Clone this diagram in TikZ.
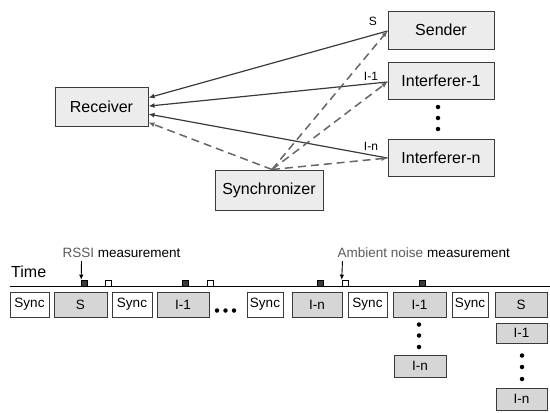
\documentclass[tikz,border=0pt]{standalone}
\usepackage{fontspec}
\setmainfont{Liberation Sans}
\usetikzlibrary{calc,arrows.meta}
\definecolor{topfill}{HTML}{ECECEC}
\definecolor{slotfill}{HTML}{D6D6D6}
\definecolor{edge}{HTML}{3A3A3A}
\definecolor{dash}{HTML}{666666}
\definecolor{greytext}{HTML}{5A5A5A}
\tikzset{
  topbox/.style={draw=edge, line width=1pt, fill=topfill, inner sep=0pt, font=\fontsize{16}{18}\selectfont},
  slot/.style={draw=edge, line width=0.9pt, inner sep=0pt, minimum height=25pt, font=\fontsize{13.5}{15}\selectfont},
  syncslot/.style={slot, fill=white},
  msgslot/.style={slot, fill=slotfill},
  solidlink/.style={draw=edge, line width=1.2pt, -{Latex[length=6pt,width=5pt]}},
  dashlink/.style={draw=dash, line width=1.5pt, dash pattern=on 8pt off 5pt, -{Latex[length=6pt,width=5pt]}},
  linklabel/.style={font=\fontsize{12}{14}\selectfont, inner sep=0pt},
  dotmark/.style={fill=black, circle, inner sep=0pt, minimum size=4.5pt},
  fullsq/.style={draw=black, fill=edge, line width=0.6pt, inner sep=0pt, minimum size=6pt},
  emptysq/.style={draw=black, fill=white, line width=0.6pt, inner sep=0pt, minimum size=6pt},
  smallarrow/.style={draw=black, line width=0.9pt, -{Latex[length=5pt,width=4.5pt]}},
  note/.style={font=\fontsize{13.5}{15}\selectfont, inner sep=0pt, anchor=west}
}
\begin{document}
\begin{tikzpicture}[x=1pt,y=-1pt]
\useasboundingbox (0,0) rectangle (550,413);
% top nodes
\node[topbox, minimum width=93pt, minimum height=39pt] (rcv) at (101.5,106.5) {Receiver};
\node[topbox, minimum width=106pt, minimum height=38pt] (snd) at (441,30) {Sender};
\node[topbox, minimum width=106pt, minimum height=37pt] (if1) at (441,80.5) {Interferer-1};
\node[topbox, minimum width=106pt, minimum height=37pt] (ifn) at (441,157.5) {Interferer-n};
\node[topbox, minimum width=108pt, minimum height=40pt] (syn) at (269,190) {Synchronizer};
\node[dotmark] (td1) at (438,107) {};
\node[dotmark] (td2) at (438,118) {};
\node[dotmark] (td3) at (438,129) {};
% anchor points on receiver
\coordinate (r1) at ($(rcv.north east)!0.28!(rcv.south east)$);
\coordinate (r2) at ($(rcv.north east)!0.49!(rcv.south east)$);
\coordinate (r3) at ($(rcv.north east)!0.69!(rcv.south east)$);
\coordinate (r4) at ($(rcv.north east)!0.90!(rcv.south east)$);
\coordinate (sy) at ($(syn.north)+(3,0)$);
\coordinate (s1) at ($(snd.west)+(0,1)$);
\coordinate (i1) at ($(if1.west)+(0,1.5)$);
\coordinate (in) at ($(ifn.west)+(0,0.5)$);
% connectors
\draw[solidlink] (s1) -- (r1);
\draw[solidlink] (i1) -- (r2);
\draw[solidlink] (in) -- (r3);
\draw[dashlink] (sy) -- (r4);
\draw[dashlink] (sy) -- (s1);
\draw[dashlink] (sy) -- (i1);
\draw[dashlink] (sy) -- (in);
\node[linklabel] (ls) at (373,21) {S};
\node[linklabel] (l1) at (371,76) {I-1};
\node[linklabel] (ln) at (371,146) {I-n};
% time line
\node[font=\fontsize{16}{18}\selectfont, inner sep=0pt, anchor=west] (time) at (11,271.5) {Time};
\coordinate (tl0) at (10,286);
\coordinate (tl1) at (550,286);
\draw[black, line width=1pt] (tl0) -- (tl1);
% slots
\node[syncslot, minimum width=39pt] (b1) at (29.5,304.5) {Sync};
\node[msgslot, minimum width=53pt] (b2) at (80.5,304.5) {S};
\node[syncslot, minimum width=40pt] (b3) at (132,304.5) {Sync};
\node[msgslot, minimum width=52pt] (b4) at (183,304.5) {I-1};
\node[dotmark] (bd1) at (217,310.5) {};
\node[dotmark] (bd2) at (225.5,310.5) {};
\node[dotmark] (bd3) at (234,310.5) {};
\node[syncslot, minimum width=36pt] (b5) at (265,304.5) {Sync};
\node[msgslot, minimum width=50pt] (b6) at (317,304.5) {I-n};
\node[syncslot, minimum width=39pt] (b7) at (367.5,304.5) {Sync};
\node[msgslot, minimum width=53pt] (b8) at (419.5,304.5) {I-1};
\node[syncslot, minimum width=36pt] (b9) at (470,304.5) {Sync};
\node[msgslot, minimum width=52pt] (b10) at (521,304.5) {S};
\node[dotmark] (cd1) at (419,324.5) {};
\node[dotmark] (cd2) at (419,335.5) {};
\node[dotmark] (cd3) at (419,347) {};
\node[msgslot, minimum width=52pt, minimum height=22pt] (b8n) at (420,366) {I-n};
\node[msgslot, minimum width=51pt, minimum height=20pt] (b10a) at (521.5,333) {I-1};
\node[dotmark] (ed1) at (522,355.5) {};
\node[dotmark] (ed2) at (522,367) {};
\node[dotmark] (ed3) at (522,379) {};
\node[msgslot, minimum width=51pt, minimum height=22pt] (b10n) at (521.5,399) {I-n};
% measurement marks
\node[fullsq] (q1) at (84.5,283) {};
\node[emptysq] (q2) at (108.5,283) {};
\node[fullsq] (q3) at (185.5,283) {};
\node[emptysq] (q4) at (210.5,283) {};
\node[fullsq] (q5) at (320,283) {};
\node[emptysq] (q6) at (345,283) {};
\node[fullsq] (q7) at (422,283) {};
\node[note] (rssi) at (62.5,253) {\textcolor{greytext}{RSSI} measurement};
\node[note] (amb) at (337.5,253) {\textcolor{greytext}{Ambient noise}\hspace{4pt}measurement};
\coordinate (ra) at (81.5,261);
\coordinate (aa) at (342.5,261);
\draw[smallarrow] (ra) -- (q1.north west);
\draw[smallarrow] (aa) -- (q6.north west);
\end{tikzpicture}
\end{document}
